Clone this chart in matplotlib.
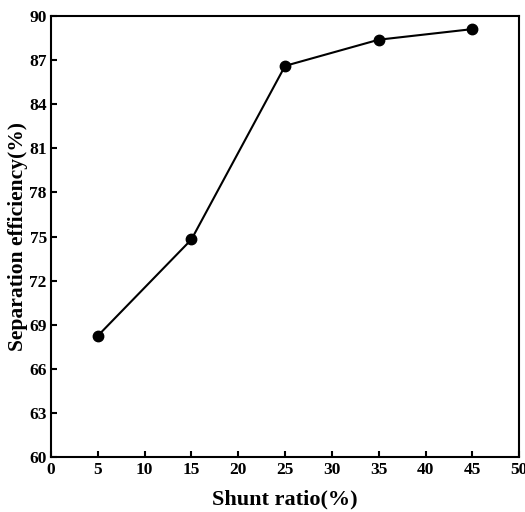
import matplotlib
matplotlib.use("Agg")
import matplotlib.pyplot as plt

shunt_ratio = [5, 15, 25, 35, 45]
efficiency = [68.25, 74.8, 86.6, 88.38, 89.1]

xticks = [0, 5, 10, 15, 20, 25, 30, 35, 40, 45, 50]
yticks = [60, 63, 66, 69, 72, 75, 78, 81, 84, 87, 90]

plt.rcParams['font.family'] = ['Liberation Serif', 'DejaVu Serif']
plt.rcParams['font.weight'] = 'bold'

fig = plt.figure(figsize=(5.25, 5.12), dpi=100)
ax = fig.add_axes([0.097, 0.107, 0.892, 0.862])

ax.plot(shunt_ratio, efficiency, color='black', linewidth=1.5,
        marker='o', markersize=7.5)

ax.set_xlim(0, 50)
ax.set_ylim(60, 90)
ax.set_xticks(xticks)
ax.set_yticks(yticks)
ax.tick_params(direction='in', length=4, width=1.5, labelsize=12.5)
ax.tick_params(axis='y', pad=3)
for lab in ax.get_xticklabels() + ax.get_yticklabels():
	lab.set_fontweight('bold')
for s in ax.spines.values():
	s.set_linewidth(1.5)

ax.set_xlabel('Shunt ratio(%)', fontsize=16, fontweight='bold', labelpad=8)
ax.set_ylabel('Separation efficiency(%)', fontsize=15.5, fontweight='bold', labelpad=1)

fig.savefig('out.png', dpi=100)
